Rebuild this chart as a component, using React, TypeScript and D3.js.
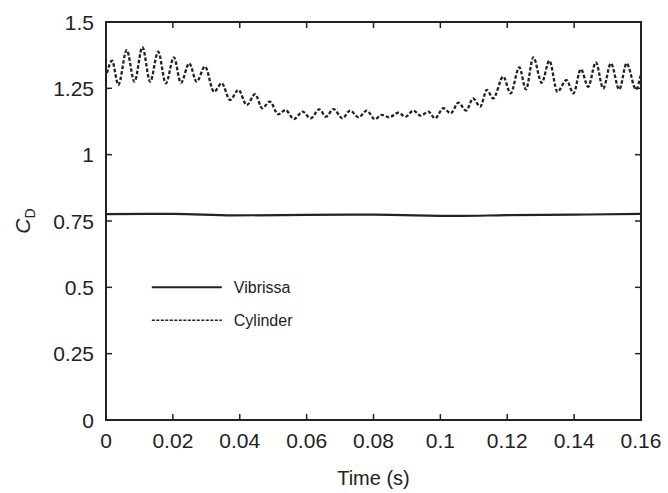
import { useEffect, useRef } from "react";
import * as d3 from "d3";

// time (s) and drag coefficient
const cylTime = [
  0.0003, 0.0018, 0.0037, 0.0062, 0.0085, 0.0109, 0.0132, 0.0156, 0.0179, 0.0203,
  0.0224, 0.0249, 0.0271, 0.0296, 0.0323, 0.0346, 0.0371, 0.0396, 0.0421, 0.0446,
  0.0467, 0.049, 0.0515, 0.0537, 0.0562, 0.0588, 0.0612, 0.0638, 0.0658, 0.068,
  0.0707, 0.073, 0.0755, 0.078, 0.0804, 0.0825, 0.0847, 0.0874, 0.0896, 0.0919,
  0.0941, 0.0964, 0.0984, 0.1009, 0.1031, 0.1054, 0.1077, 0.1098, 0.1119, 0.1139,
  0.1158, 0.1188, 0.121, 0.1236, 0.1256, 0.1278, 0.1303, 0.1326, 0.135, 0.1377,
  0.1398, 0.142, 0.1442, 0.1465, 0.1487, 0.151, 0.1535, 0.1557, 0.1585, 0.16,
];
const cylCd = [
  1.308, 1.354, 1.263, 1.394, 1.275, 1.405, 1.275, 1.388, 1.269, 1.367,
  1.271, 1.344, 1.275, 1.332, 1.237, 1.269, 1.206, 1.244, 1.187, 1.228,
  1.175, 1.2, 1.152, 1.168, 1.134, 1.162, 1.137, 1.171, 1.143, 1.172,
  1.137, 1.166, 1.141, 1.166, 1.134, 1.15, 1.141, 1.158, 1.143, 1.166,
  1.147, 1.162, 1.137, 1.175, 1.156, 1.196, 1.166, 1.212, 1.181, 1.244,
  1.212, 1.294, 1.231, 1.329, 1.246, 1.367, 1.271, 1.354, 1.237, 1.281,
  1.231, 1.322, 1.256, 1.348, 1.25, 1.344, 1.246, 1.344, 1.246, 1.307,
];

const vibTime = [0, 0.02, 0.038, 0.06, 0.08, 0.105, 0.12, 0.14, 0.16];
const vibCd = [0.776, 0.777, 0.771, 0.773, 0.774, 0.769, 0.772, 0.774, 0.777];

const xTicks = [0, 0.02, 0.04, 0.06, 0.08, 0.1, 0.12, 0.14, 0.16];
const yTicks = [0, 0.25, 0.5, 0.75, 1, 1.25, 1.5];

const W = 668;
const H = 493;
const margin = { top: 22, right: 27, bottom: 73, left: 106 };
const font = "'Liberation Sans', Arial, sans-serif";
const ink = "#222";

const App = () => {
  const svgRef = useRef<SVGSVGElement>(null);

  useEffect(() => {
    const svg = d3.select(svgRef.current);
    svg.selectAll("*").remove();

    const iw = W - margin.left - margin.right;
    const ih = H - margin.top - margin.bottom;

    const x = d3.scaleLinear().domain([0, 0.16]).range([0, iw]);
    const y = d3.scaleLinear().domain([0, 1.5]).range([ih, 0]);

    const g = svg.append("g").attr("transform", `translate(${margin.left},${margin.top})`);

    // data lines
    const line = d3.line<[number, number]>()
      .x((d) => x(d[0]))
      .y((d) => y(d[1]))
      .curve(d3.curveMonotoneX);

    g.append("path")
      .datum(vibTime.map((t, i) => [t, vibCd[i]] as [number, number]))
      .attr("fill", "none")
      .attr("stroke", ink)
      .attr("stroke-width", 2.2)
      .attr("d", line);

    g.append("path")
      .datum(cylTime.map((t, i) => [t, cylCd[i]] as [number, number]))
      .attr("fill", "none")
      .attr("stroke", ink)
      .attr("stroke-width", 2.3)
      .attr("stroke-dasharray", "3.5,2")
      .attr("d", line);

    // box
    g.append("rect")
      .attr("width", iw)
      .attr("height", ih)
      .attr("fill", "none")
      .attr("stroke", ink)
      .attr("stroke-width", 2);

    // inward ticks on all sides
    const tl = 6;
    xTicks.forEach((t) => {
      g.append("line").attr("x1", x(t)).attr("x2", x(t)).attr("y1", ih).attr("y2", ih - tl)
        .attr("stroke", ink).attr("stroke-width", 1.5);
      g.append("line").attr("x1", x(t)).attr("x2", x(t)).attr("y1", 0).attr("y2", tl)
        .attr("stroke", ink).attr("stroke-width", 1.5);
      g.append("text")
        .attr("x", x(t))
        .attr("y", ih + 28)
        .attr("text-anchor", "middle")
        .attr("font-family", font)
        .attr("font-size", 21)
        .attr("fill", ink)
        .text(d3.format("~g")(t));
    });
    yTicks.forEach((v) => {
      g.append("line").attr("x1", 0).attr("x2", tl).attr("y1", y(v)).attr("y2", y(v))
        .attr("stroke", ink).attr("stroke-width", 1.5);
      g.append("line").attr("x1", iw).attr("x2", iw - tl).attr("y1", y(v)).attr("y2", y(v))
        .attr("stroke", ink).attr("stroke-width", 1.5);
      g.append("text")
        .attr("x", -12)
        .attr("y", y(v))
        .attr("dy", "0.36em")
        .attr("text-anchor", "end")
        .attr("font-family", font)
        .attr("font-size", 21)
        .attr("fill", ink)
        .text(d3.format("~g")(v));
    });

    // axis titles
    g.append("text")
      .attr("x", iw / 2)
      .attr("y", ih + 65)
      .attr("text-anchor", "middle")
      .attr("font-family", font)
      .attr("font-size", 20)
      .attr("fill", ink)
      .text("Time (s)");

    const yl = g.append("text")
      .attr("transform", `translate(-76,${y(0.75)}) rotate(-90)`)
      .attr("text-anchor", "middle")
      .attr("font-family", font)
      .attr("font-size", 21)
      .attr("fill", ink);
    yl.append("tspan").attr("font-style", "italic").text("C");
    yl.append("tspan").attr("font-size", 14).attr("dy", 5).text("D");

    // legend
    const lg = g.append("g").attr("transform", `translate(${x(0.0137)},${y(0.5)})`);
    lg.append("line").attr("x1", 0).attr("x2", 70).attr("y1", 0).attr("y2", 0)
      .attr("stroke", ink).attr("stroke-width", 2);
    lg.append("line").attr("x1", 0).attr("x2", 70).attr("y1", 33).attr("y2", 33)
      .attr("stroke", ink).attr("stroke-width", 1.5).attr("stroke-dasharray", "3,1.5");
    lg.append("text").attr("x", 82).attr("y", 0).attr("dy", "0.36em")
      .attr("font-family", font).attr("font-size", 16).attr("fill", ink).text("Vibrissa");
    lg.append("text").attr("x", 82).attr("y", 33).attr("dy", "0.36em")
      .attr("font-family", font).attr("font-size", 16).attr("fill", ink).text("Cylinder");
  }, []);

  return (
    <svg
      ref={svgRef}
      width={W}
      height={H}
      style={{ position: "absolute", left: 0, top: 0, background: "#fff" }}
    />
  );
};

export default App;
